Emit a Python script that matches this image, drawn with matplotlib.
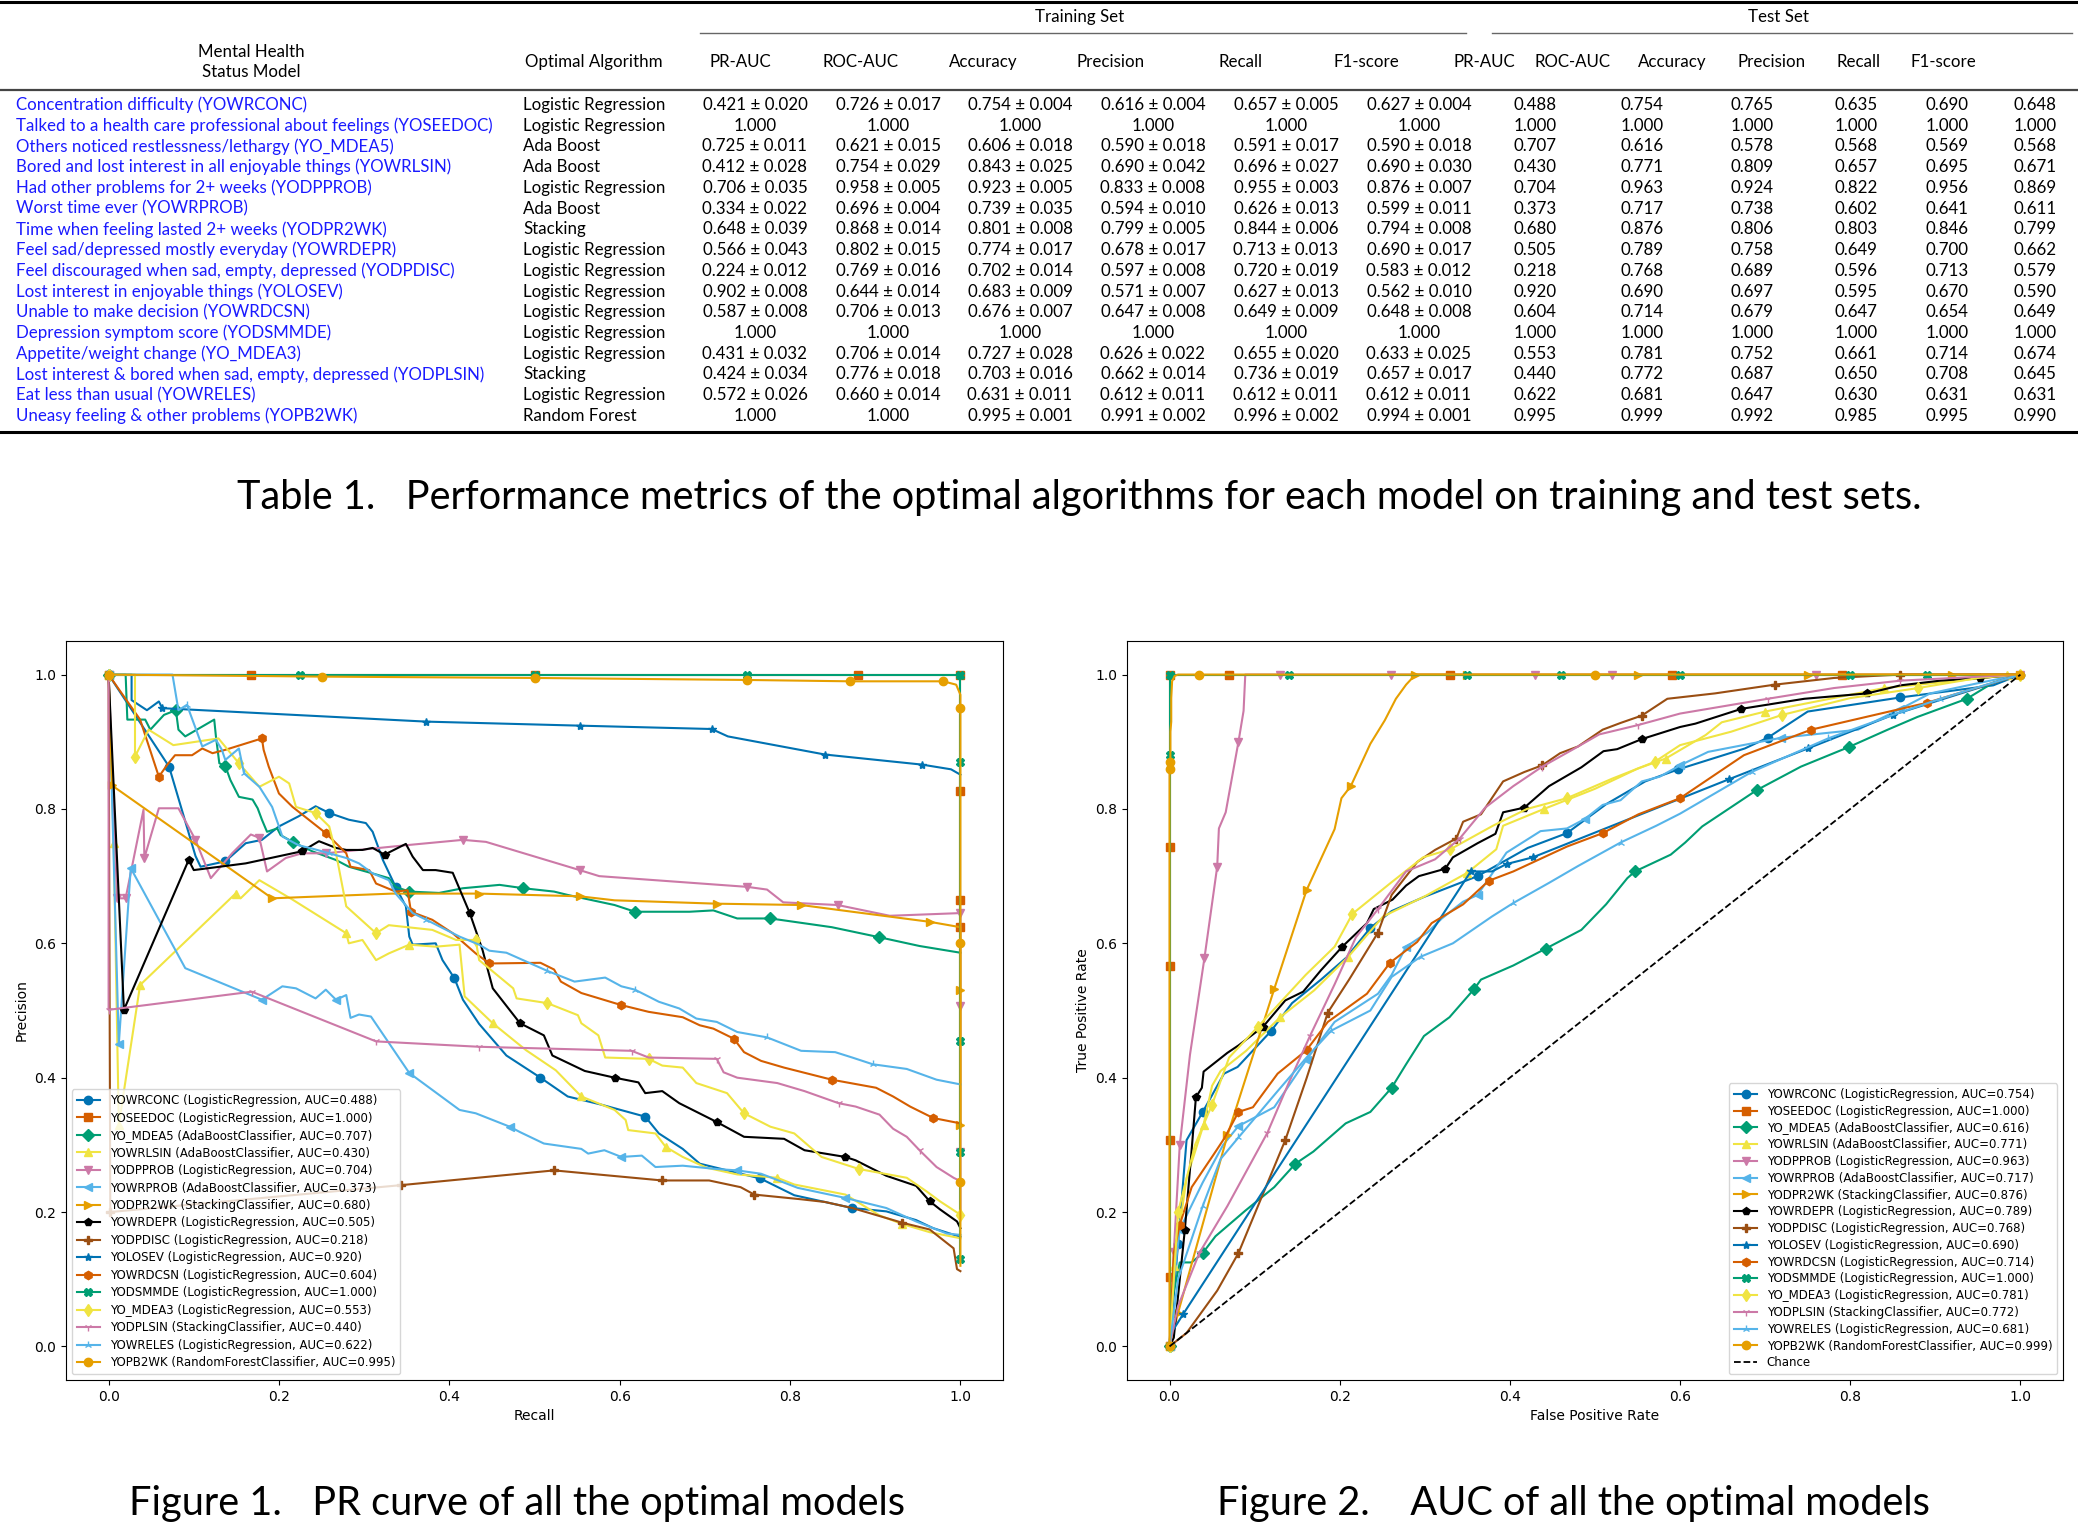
import matplotlib
matplotlib.use('Agg')
import matplotlib.pyplot as plt

# ---------------- table data ----------------
codes = ['YOWRCONC', 'YOSEEDOC', 'YO_MDEA5', 'YOWRLSIN', 'YODPPROB', 'YOWRPROB', 'YODPR2WK', 'YOWRDEPR',
         'YODPDISC', 'YOLOSEV', 'YOWRDCSN', 'YODSMMDE', 'YO_MDEA3', 'YODPLSIN', 'YOWRELES', 'YOPB2WK']
descriptions = ['Concentration difficulty',
                'Talked to a health care professional about feelings',
                'Others noticed restlessness/lethargy',
                'Bored and lost interest in all enjoyable things',
                'Had other problems for 2+ weeks',
                'Worst time ever',
                'Time when feeling lasted 2+ weeks',
                'Feel sad/depressed mostly everyday',
                'Feel discouraged when sad, empty, depressed',
                'Lost interest in enjoyable things',
                'Unable to make decision',
                'Depression symptom score',
                'Appetite/weight change',
                'Lost interest & bored when sad, empty, depressed',
                'Eat less than usual',
                'Uneasy feeling & other problems']
algorithms = ['Logistic Regression', 'Logistic Regression', 'Ada Boost', 'Ada Boost', 'Logistic Regression',
              'Ada Boost', 'Stacking', 'Logistic Regression', 'Logistic Regression', 'Logistic Regression',
              'Logistic Regression', 'Logistic Regression', 'Logistic Regression', 'Stacking',
              'Logistic Regression', 'Random Forest']

train_pr_auc = [0.421, 1.000, 0.725, 0.412, 0.706, 0.334, 0.648, 0.566, 0.224, 0.902, 0.587, 1.000, 0.431, 0.424, 0.572, 1.000]
train_pr_auc_sd = [0.020, None, 0.011, 0.028, 0.035, 0.022, 0.039, 0.043, 0.012, 0.008, 0.008, None, 0.032, 0.034, 0.026, None]
train_roc_auc = [0.726, 1.000, 0.621, 0.754, 0.958, 0.696, 0.868, 0.802, 0.769, 0.644, 0.706, 1.000, 0.706, 0.776, 0.660, 1.000]
train_roc_auc_sd = [0.017, None, 0.015, 0.029, 0.005, 0.004, 0.014, 0.015, 0.016, 0.014, 0.013, None, 0.014, 0.018, 0.014, None]
train_accuracy = [0.754, 1.000, 0.606, 0.843, 0.923, 0.739, 0.801, 0.774, 0.702, 0.683, 0.676, 1.000, 0.727, 0.703, 0.631, 0.995]
train_accuracy_sd = [0.004, None, 0.018, 0.025, 0.005, 0.035, 0.008, 0.017, 0.014, 0.009, 0.007, None, 0.028, 0.016, 0.011, 0.001]
train_precision = [0.616, 1.000, 0.590, 0.690, 0.833, 0.594, 0.799, 0.678, 0.597, 0.571, 0.647, 1.000, 0.626, 0.662, 0.612, 0.991]
train_precision_sd = [0.004, None, 0.018, 0.042, 0.008, 0.010, 0.005, 0.017, 0.008, 0.007, 0.008, None, 0.022, 0.014, 0.011, 0.002]
train_recall = [0.657, 1.000, 0.591, 0.696, 0.955, 0.626, 0.844, 0.713, 0.720, 0.627, 0.649, 1.000, 0.655, 0.736, 0.612, 0.996]
train_recall_sd = [0.005, None, 0.017, 0.027, 0.003, 0.013, 0.006, 0.013, 0.019, 0.013, 0.009, None, 0.020, 0.019, 0.011, 0.002]
train_f1 = [0.627, 1.000, 0.590, 0.690, 0.876, 0.599, 0.794, 0.690, 0.583, 0.562, 0.648, 1.000, 0.633, 0.657, 0.612, 0.994]
train_f1_sd = [0.004, None, 0.018, 0.030, 0.007, 0.011, 0.008, 0.017, 0.012, 0.010, 0.008, None, 0.025, 0.017, 0.011, 0.001]

test_pr_auc = [0.488, 1.000, 0.707, 0.430, 0.704, 0.373, 0.680, 0.505, 0.218, 0.920, 0.604, 1.000, 0.553, 0.440, 0.622, 0.995]
test_roc_auc = [0.754, 1.000, 0.616, 0.771, 0.963, 0.717, 0.876, 0.789, 0.768, 0.690, 0.714, 1.000, 0.781, 0.772, 0.681, 0.999]
test_accuracy = [0.765, 1.000, 0.578, 0.809, 0.924, 0.738, 0.806, 0.758, 0.689, 0.697, 0.679, 1.000, 0.752, 0.687, 0.647, 0.992]
test_precision = [0.635, 1.000, 0.568, 0.657, 0.822, 0.602, 0.803, 0.649, 0.596, 0.595, 0.647, 1.000, 0.661, 0.650, 0.630, 0.985]
test_recall = [0.690, 1.000, 0.569, 0.695, 0.956, 0.641, 0.846, 0.700, 0.713, 0.670, 0.654, 1.000, 0.714, 0.708, 0.631, 0.995]
test_f1 = [0.648, 1.000, 0.568, 0.671, 0.869, 0.611, 0.799, 0.662, 0.579, 0.590, 0.649, 1.000, 0.674, 0.645, 0.631, 0.990]

metric_headers = ['PR-AUC', 'ROC-AUC', 'Accuracy', 'Precision', 'Recall', 'F1-score']

# ---------------- PR curves (recall, precision) ----------------
pr_yowrconc = [(0.0, 1.0), (0.071, 0.863), (0.102, 0.730), (0.108, 0.714), (0.137, 0.722), (0.161, 0.749), (0.180, 0.754),
               (0.200, 0.774), (0.223, 0.789), (0.243, 0.804), (0.259, 0.794), (0.282, 0.784), (0.302, 0.779), (0.310, 0.766),
               (0.322, 0.724), (0.337, 0.684), (0.349, 0.655), (0.353, 0.610), (0.357, 0.598), (0.384, 0.600), (0.392, 0.575),
               (0.406, 0.548), (0.416, 0.516), (0.435, 0.480), (0.467, 0.433), (0.507, 0.400), (0.539, 0.372), (0.578, 0.360),
               (0.630, 0.342), (0.646, 0.317), (0.674, 0.294), (0.694, 0.272), (0.765, 0.250), (0.805, 0.225), (0.873, 0.206),
               (0.913, 0.201), (0.948, 0.188), (0.968, 0.176), (1.0, 0.163)]
pr_yoseedoc = [(0.0, 1.0), (0.167, 1.0), (0.5, 1.0), (0.88, 1.0), (1.0, 1.0), (1.0, 0.897), (1.0, 0.827), (1.0, 0.775),
               (1.0, 0.718), (1.0, 0.664), (1.0, 0.624), (1.0, 0.33)]
pr_yo_mdea5 = [(0.0, 1.0), (0.02, 1.0), (0.022, 0.933), (0.043, 0.933), (0.049, 0.918), (0.065, 0.94), (0.079, 0.947),
               (0.082, 0.918), (0.090, 0.908), (0.124, 0.933), (0.126, 0.908), (0.130, 0.868), (0.137, 0.864), (0.143, 0.843),
               (0.153, 0.818), (0.169, 0.814), (0.175, 0.801), (0.180, 0.784), (0.186, 0.766), (0.198, 0.771), (0.202, 0.761),
               (0.216, 0.751), (0.239, 0.737), (0.267, 0.724), (0.282, 0.714), (0.310, 0.704), (0.329, 0.697), (0.337, 0.684),
               (0.353, 0.677), (0.388, 0.675), (0.416, 0.682), (0.459, 0.687), (0.487, 0.682), (0.523, 0.677), (0.539, 0.672),
               (0.594, 0.657), (0.618, 0.647), (0.682, 0.647), (0.710, 0.649), (0.738, 0.637), (0.777, 0.637), (0.849, 0.624),
               (0.905, 0.609), (0.952, 0.596), (1.0, 0.586)]
pr_yowrlsin = [(0.0, 1.0), (0.006, 0.75), (0.012, 0.33), (0.037, 0.538), (0.149, 0.674), (0.155, 0.667), (0.177, 0.694),
               (0.216, 0.665), (0.279, 0.615), (0.282, 0.600), (0.298, 0.605), (0.314, 0.575), (0.329, 0.585), (0.353, 0.598),
               (0.384, 0.595), (0.412, 0.598), (0.418, 0.521), (0.451, 0.481), (0.490, 0.441), (0.525, 0.411), (0.555, 0.372),
               (0.594, 0.352), (0.607, 0.337), (0.610, 0.322), (0.642, 0.317), (0.654, 0.297), (0.674, 0.282), (0.702, 0.266),
               (0.738, 0.256), (0.785, 0.251), (0.805, 0.241), (0.865, 0.226), (0.905, 0.195), (0.932, 0.182), (0.964, 0.170),
               (1.0, 0.161)]
pr_yodpprob = [(0.0, 1.0), (0.010, 0.667), (0.020, 0.667), (0.041, 0.799), (0.042, 0.727), (0.059, 0.801), (0.082, 0.801),
               (0.102, 0.754), (0.120, 0.697), (0.145, 0.734), (0.167, 0.762), (0.177, 0.757), (0.186, 0.707), (0.208, 0.727),
               (0.227, 0.734), (0.255, 0.734), (0.349, 0.746), (0.416, 0.754), (0.443, 0.751), (0.553, 0.709), (0.576, 0.700),
               (0.750, 0.684), (0.773, 0.680), (0.792, 0.661), (0.856, 0.657), (0.917, 0.641), (1.0, 0.645), (1.0, 0.506),
               (1.0, 0.289), (1.0, 0.256), (1.0, 0.219), (1.0, 0.20)]
pr_yowrprob = [(0.0, 1.0), (0.012, 0.45), (0.026, 0.712), (0.090, 0.563), (0.180, 0.516), (0.204, 0.536), (0.220, 0.533),
               (0.243, 0.518), (0.255, 0.531), (0.267, 0.516), (0.279, 0.523), (0.284, 0.489), (0.294, 0.494), (0.308, 0.491),
               (0.353, 0.407), (0.412, 0.352), (0.431, 0.347), (0.471, 0.327), (0.483, 0.319), (0.511, 0.302), (0.555, 0.294),
               (0.563, 0.287), (0.582, 0.292), (0.602, 0.282), (0.626, 0.284), (0.642, 0.267), (0.674, 0.269), (0.714, 0.264),
               (0.738, 0.262), (0.766, 0.257), (0.809, 0.236), (0.865, 0.221), (0.913, 0.206), (0.948, 0.186), (0.984, 0.168),
               (1.0, 0.166)]
pr_yodpr2wk = [(0.0, 1.0), (0.004, 0.835), (0.192, 0.667), (0.333, 0.674), (0.435, 0.674), (0.553, 0.670), (0.594, 0.664),
               (0.714, 0.659), (0.813, 0.657), (0.873, 0.647), (0.964, 0.632), (1.0, 0.624), (1.0, 0.605), (1.0, 0.53),
               (1.0, 0.42), (1.0, 0.36), (1.0, 0.33)]
pr_yowrdepr = [(0.0, 1.0), (0.018, 0.501), (0.094, 0.724), (0.100, 0.709), (0.161, 0.719), (0.227, 0.737), (0.247, 0.752),
               (0.267, 0.742), (0.279, 0.739), (0.298, 0.739), (0.310, 0.742), (0.324, 0.732), (0.349, 0.748), (0.357, 0.729),
               (0.369, 0.709), (0.384, 0.709), (0.404, 0.705), (0.424, 0.645), (0.439, 0.590), (0.451, 0.533), (0.483, 0.481),
               (0.511, 0.463), (0.521, 0.433), (0.559, 0.410), (0.594, 0.400), (0.622, 0.393), (0.630, 0.377), (0.650, 0.380),
               (0.670, 0.362), (0.714, 0.334), (0.746, 0.312), (0.793, 0.309), (0.817, 0.292), (0.865, 0.282), (0.877, 0.277),
               (0.913, 0.254), (0.948, 0.239), (0.964, 0.216), (0.976, 0.204), (0.996, 0.186), (1.0, 0.176)]
pr_yodpdisc = [(0.0, 1.0), (0.002, 0.20), (0.343, 0.240), (0.523, 0.262), (0.650, 0.247), (0.705, 0.247), (0.742, 0.237),
               (0.758, 0.226), (0.813, 0.219), (0.841, 0.215), (0.873, 0.206), (0.932, 0.184), (0.964, 0.174), (0.980, 0.158),
               (0.992, 0.146), (0.996, 0.115), (1.0, 0.112)]
pr_yolosev = [(0.0, 1.0), (0.027, 1.0), (0.027, 0.962), (0.045, 0.947), (0.059, 0.960), (0.063, 0.950), (0.373, 0.930),
              (0.553, 0.924), (0.708, 0.919), (0.727, 0.908), (0.841, 0.881), (0.955, 0.866), (0.989, 0.859), (1.0, 0.851)]
pr_yowrdcsn = [(0.0, 1.0), (0.037, 0.933), (0.059, 0.848), (0.069, 0.866), (0.078, 0.880), (0.098, 0.880), (0.110, 0.890),
               (0.122, 0.883), (0.137, 0.888), (0.180, 0.905), (0.182, 0.888), (0.188, 0.863), (0.200, 0.823), (0.216, 0.803),
               (0.255, 0.764), (0.271, 0.744), (0.279, 0.734), (0.284, 0.714), (0.306, 0.709), (0.314, 0.689), (0.337, 0.677),
               (0.351, 0.679), (0.355, 0.647), (0.380, 0.635), (0.404, 0.615), (0.431, 0.585), (0.447, 0.570), (0.507, 0.571),
               (0.523, 0.561), (0.531, 0.543), (0.555, 0.526), (0.602, 0.508), (0.634, 0.498), (0.674, 0.490), (0.694, 0.478),
               (0.710, 0.473), (0.734, 0.458), (0.746, 0.438), (0.766, 0.425), (0.793, 0.415), (0.849, 0.397), (0.901, 0.385),
               (0.921, 0.372), (0.941, 0.357), (0.968, 0.340), (1.0, 0.332)]
pr_yodsmmde = [(0.0, 1.0), (0.225, 1.0), (0.5, 1.0), (0.75, 1.0), (1.0, 1.0), (1.0, 0.87), (1.0, 0.455), (1.0, 0.38),
               (1.0, 0.29), (1.0, 0.20), (1.0, 0.16), (1.0, 0.13)]
pr_yo_mdea3 = [(0.0, 1.0), (0.031, 1.0), (0.031, 0.878), (0.047, 0.918), (0.076, 0.895), (0.129, 0.905), (0.153, 0.868),
               (0.177, 0.833), (0.200, 0.848), (0.212, 0.838), (0.220, 0.803), (0.243, 0.794), (0.259, 0.774), (0.267, 0.734),
               (0.279, 0.655), (0.314, 0.615), (0.329, 0.627), (0.380, 0.620), (0.408, 0.605), (0.431, 0.605), (0.435, 0.575),
               (0.475, 0.533), (0.479, 0.518), (0.515, 0.511), (0.551, 0.493), (0.555, 0.481), (0.575, 0.463), (0.583, 0.430),
               (0.634, 0.428), (0.650, 0.418), (0.674, 0.415), (0.690, 0.392), (0.726, 0.377), (0.746, 0.347), (0.777, 0.327),
               (0.805, 0.317), (0.837, 0.282), (0.881, 0.264), (0.937, 0.251), (0.960, 0.231), (0.976, 0.216), (1.0, 0.196)]
pr_yodplsin = [(0.0, 1.0), (0.0, 0.501), (0.168, 0.528), (0.314, 0.454), (0.435, 0.446), (0.614, 0.440), (0.634, 0.430),
               (0.714, 0.428), (0.722, 0.408), (0.738, 0.400), (0.785, 0.392), (0.817, 0.380), (0.857, 0.362), (0.877, 0.357),
               (0.905, 0.345), (0.921, 0.324), (0.937, 0.312), (0.952, 0.292), (0.972, 0.267), (0.992, 0.251), (1.0, 0.246)]
pr_yowreles = [(0.0, 1.0), (0.075, 1.0), (0.082, 0.947), (0.092, 0.955), (0.110, 0.893), (0.126, 0.903), (0.133, 0.888),
               (0.137, 0.873), (0.153, 0.890), (0.159, 0.853), (0.177, 0.833), (0.192, 0.803), (0.200, 0.774), (0.204, 0.759),
               (0.223, 0.746), (0.239, 0.741), (0.259, 0.734), (0.279, 0.727), (0.294, 0.719), (0.310, 0.704), (0.329, 0.694),
               (0.337, 0.674), (0.357, 0.645), (0.373, 0.635), (0.412, 0.610), (0.435, 0.598), (0.447, 0.589), (0.467, 0.586),
               (0.515, 0.559), (0.547, 0.543), (0.583, 0.549), (0.602, 0.536), (0.618, 0.531), (0.646, 0.513), (0.670, 0.503),
               (0.690, 0.488), (0.714, 0.483), (0.738, 0.468), (0.773, 0.460), (0.813, 0.440), (0.853, 0.438), (0.873, 0.430),
               (0.897, 0.420), (0.937, 0.413), (0.972, 0.397), (1.0, 0.390)]
pr_yopb2wk = [(0.0, 1.0), (0.25, 0.997), (0.5, 0.995), (0.75, 0.992), (0.87, 0.99), (0.93, 0.99), (0.96, 0.99), (0.98, 0.99),
              (0.995, 0.985), (1.0, 0.97), (1.0, 0.95), (1.0, 0.60), (1.0, 0.245), (1.0, 0.12)]

# ---------------- ROC curves (fpr, tpr) ----------------
roc_yowrconc = [(0.0, 0.0), (0.010, 0.153), (0.020, 0.307), (0.039, 0.349), (0.050, 0.374), (0.064, 0.406), (0.080, 0.416),
                (0.119, 0.469), (0.144, 0.511), (0.178, 0.546), (0.208, 0.579), (0.236, 0.623), (0.261, 0.648), (0.299, 0.669),
                (0.362, 0.700), (0.421, 0.742), (0.467, 0.764), (0.513, 0.807), (0.559, 0.841), (0.598, 0.859), (0.676, 0.890),
                (0.703, 0.906), (0.750, 0.945), (0.859, 0.966), (0.968, 0.984), (1.0, 1.0)]
roc_yoseedoc = [(0.0, 0.0), (0.0, 0.103), (0.0, 0.307), (0.0, 0.406), (0.0, 0.566), (0.0, 0.743), (0.0, 1.0), (0.07, 1.0),
                (0.33, 1.0), (0.59, 1.0), (0.79, 1.0), (1.0, 1.0)]
roc_yo_mdea5 = [(0.0, 0.0), (0.003, 0.069), (0.012, 0.125), (0.026, 0.125), (0.039, 0.139), (0.054, 0.164), (0.089, 0.202),
                (0.123, 0.237), (0.148, 0.272), (0.169, 0.290), (0.207, 0.332), (0.236, 0.349), (0.261, 0.385), (0.278, 0.420),
                (0.299, 0.462), (0.329, 0.490), (0.358, 0.532), (0.366, 0.546), (0.404, 0.567), (0.442, 0.592), (0.484, 0.620),
                (0.513, 0.658), (0.538, 0.697), (0.547, 0.707), (0.589, 0.732), (0.606, 0.750), (0.626, 0.774), (0.690, 0.828),
                (0.742, 0.863), (0.798, 0.892), (0.844, 0.918), (0.879, 0.937), (0.937, 0.964), (0.968, 0.988), (1.0, 1.0)]
roc_yowrlsin = [(0.0, 0.0), (0.005, 0.12), (0.02, 0.25), (0.04, 0.33), (0.05, 0.388), (0.06, 0.41), (0.09, 0.44),
                (0.13, 0.49), (0.17, 0.53), (0.21, 0.58), (0.251, 0.64), (0.3, 0.67), (0.35, 0.705), (0.384, 0.74),
                (0.392, 0.775), (0.44, 0.80), (0.5, 0.83), (0.55, 0.86), (0.583, 0.875), (0.63, 0.91), (0.649, 0.929),
                (0.7, 0.945), (0.76, 0.96), (0.84, 0.98), (0.92, 0.99), (0.984, 0.999), (1.0, 1.0)]
roc_yodpprob = [(0.0, 0.0), (0.005, 0.14), (0.012, 0.30), (0.024, 0.434), (0.041, 0.578), (0.056, 0.714), (0.058, 0.771),
                (0.066, 0.795), (0.081, 0.900), (0.087, 0.946), (0.089, 1.0), (0.13, 1.0), (0.26, 1.0), (0.43, 1.0),
                (0.52, 1.0), (0.76, 1.0), (0.93, 1.0), (1.0, 1.0)]
roc_yowrprob = [(0.0, 0.0), (0.005, 0.10), (0.012, 0.174), (0.039, 0.244), (0.063, 0.300), (0.081, 0.328), (0.123, 0.356),
                (0.161, 0.427), (0.194, 0.483), (0.245, 0.525), (0.261, 0.553), (0.278, 0.595), (0.303, 0.616), (0.320, 0.637),
                (0.345, 0.662), (0.362, 0.672), (0.396, 0.735), (0.436, 0.767), (0.467, 0.771), (0.488, 0.785), (0.509, 0.806),
                (0.530, 0.813), (0.555, 0.841), (0.576, 0.848), (0.600, 0.865), (0.633, 0.885), (0.719, 0.906), (0.809, 0.918),
                (0.859, 0.949), (0.894, 0.972), (0.953, 0.988), (1.0, 1.0)]
roc_yodpr2wk = [(0.0, 0.0), (0.01, 0.05), (0.068, 0.314), (0.123, 0.532), (0.161, 0.679), (0.194, 0.770), (0.202, 0.816),
                (0.213, 0.834), (0.236, 0.897), (0.253, 0.932), (0.266, 0.964), (0.278, 0.985), (0.289, 1.0), (0.35, 1.0),
                (0.55, 1.0), (0.75, 1.0), (0.92, 1.0), (1.0, 1.0)]
roc_yowrdepr = [(0.0, 0.0), (0.005, 0.013), (0.018, 0.174), (0.026, 0.293), (0.031, 0.371), (0.038, 0.385), (0.040, 0.409),
                (0.068, 0.437), (0.081, 0.448), (0.110, 0.476), (0.136, 0.515), (0.157, 0.528), (0.178, 0.560), (0.203, 0.595),
                (0.232, 0.630), (0.240, 0.651), (0.262, 0.665), (0.278, 0.686), (0.293, 0.700), (0.324, 0.711), (0.333, 0.728),
                (0.362, 0.749), (0.383, 0.763), (0.392, 0.795), (0.417, 0.802), (0.446, 0.834), (0.484, 0.862), (0.510, 0.886),
                (0.526, 0.889), (0.555, 0.904), (0.600, 0.922), (0.618, 0.927), (0.672, 0.949), (0.746, 0.964), (0.820, 0.972),
                (0.859, 0.984), (0.906, 0.991), (0.953, 0.995), (1.0, 1.0)]
roc_yodpdisc = [(0.0, 0.0), (0.02, 0.02), (0.056, 0.083), (0.081, 0.139), (0.136, 0.307), (0.161, 0.399), (0.186, 0.497),
                (0.211, 0.546), (0.245, 0.616), (0.261, 0.672), (0.291, 0.721), (0.312, 0.739), (0.337, 0.756), (0.345, 0.781),
                (0.366, 0.792), (0.392, 0.841), (0.417, 0.855), (0.438, 0.865), (0.459, 0.883), (0.480, 0.893), (0.509, 0.918),
                (0.530, 0.928), (0.555, 0.939), (0.585, 0.964), (0.641, 0.972), (0.711, 0.985), (0.781, 0.995), (0.859, 1.0),
                (1.0, 1.0)]
roc_yolosev = [(0.0, 0.0), (0.002, 0.02), (0.016, 0.048), (0.354, 0.707), (0.379, 0.707), (0.396, 0.718), (0.427, 0.728),
               (0.657, 0.844), (0.75, 0.89), (0.85, 0.94), (1.0, 1.0)]
roc_yowrdcsn = [(0.0, 0.0), (0.005, 0.139), (0.012, 0.181), (0.026, 0.237), (0.052, 0.286), (0.064, 0.309), (0.081, 0.349),
                (0.098, 0.356), (0.127, 0.406), (0.161, 0.441), (0.186, 0.483), (0.232, 0.525), (0.259, 0.571), (0.291, 0.602),
                (0.308, 0.630), (0.345, 0.658), (0.375, 0.693), (0.404, 0.707), (0.467, 0.744), (0.509, 0.764), (0.551, 0.792),
                (0.600, 0.816), (0.675, 0.880), (0.754, 0.918), (0.890, 0.958), (1.0, 1.0)]
roc_yodsmmde = [(0.0, 0.0), (0.0, 0.88), (0.0, 1.0), (0.14, 1.0), (0.245, 1.0), (0.35, 1.0), (0.46, 1.0), (0.6, 1.0),
                (0.7, 1.0), (0.8, 1.0), (0.89, 1.0), (1.0, 1.0)]
roc_yo_mdea3 = [(0.0, 0.0), (0.01, 0.2), (0.03, 0.3), (0.05, 0.36), (0.07, 0.43), (0.104, 0.476), (0.16, 0.553),
                (0.194, 0.595), (0.215, 0.644), (0.26, 0.69), (0.298, 0.728), (0.33, 0.74), (0.38, 0.775), (0.42, 0.80),
                (0.467, 0.816), (0.52, 0.845), (0.57, 0.87), (0.6, 0.895), (0.66, 0.915), (0.72, 0.94), (0.8, 0.965),
                (0.88, 0.98), (0.95, 0.995), (1.0, 1.0)]
roc_yodplsin = [(0.0, 0.0), (0.01, 0.06), (0.035, 0.139), (0.068, 0.209), (0.115, 0.318), (0.140, 0.392), (0.165, 0.462),
                (0.194, 0.539), (0.219, 0.609), (0.245, 0.651), (0.278, 0.707), (0.312, 0.725), (0.341, 0.756), (0.371, 0.802),
                (0.404, 0.834), (0.438, 0.863), (0.476, 0.890), (0.505, 0.911), (0.551, 0.925), (0.600, 0.942), (0.703, 0.964),
                (0.781, 0.980), (0.859, 0.991), (1.0, 1.0)]
roc_yowreles = [(0.0, 0.0), (0.01, 0.1), (0.039, 0.209), (0.06, 0.279), (0.081, 0.311), (0.127, 0.38), (0.161, 0.43),
                (0.19, 0.47), (0.236, 0.50), (0.261, 0.55), (0.295, 0.58), (0.333, 0.60), (0.379, 0.64), (0.404, 0.66),
                (0.446, 0.690), (0.48, 0.715), (0.53, 0.75), (0.572, 0.775), (0.6, 0.793), (0.684, 0.855), (0.774, 0.905),
                (0.85, 0.94), (0.906, 0.964), (0.96, 0.985), (1.0, 1.0)]
roc_yopb2wk = [(0.0, 0.0), (0.0, 0.86), (0.001, 0.87), (0.001, 0.915), (0.002, 0.93), (0.002, 0.945), (0.002, 0.965),
               (0.003, 0.99), (0.006, 0.998), (0.01, 1.0), (0.015, 1.0), (0.035, 1.0), (0.5, 1.0), (1.0, 1.0)]

pr_curves = [pr_yowrconc, pr_yoseedoc, pr_yo_mdea5, pr_yowrlsin, pr_yodpprob, pr_yowrprob, pr_yodpr2wk, pr_yowrdepr,
             pr_yodpdisc, pr_yolosev, pr_yowrdcsn, pr_yodsmmde, pr_yo_mdea3, pr_yodplsin, pr_yowreles, pr_yopb2wk]
roc_curves = [roc_yowrconc, roc_yoseedoc, roc_yo_mdea5, roc_yowrlsin, roc_yodpprob, roc_yowrprob, roc_yodpr2wk,
              roc_yowrdepr, roc_yodpdisc, roc_yolosev, roc_yowrdcsn, roc_yodsmmde, roc_yo_mdea3, roc_yodplsin,
              roc_yowreles, roc_yopb2wk]

clf_class = {'Logistic Regression': 'LogisticRegression', 'Ada Boost': 'AdaBoostClassifier',
             'Stacking': 'StackingClassifier', 'Random Forest': 'RandomForestClassifier'}

# styles
colors = ['#0072B2', '#D55E00', '#009E73', '#F0E442', '#CC79A7', '#56B4E9', '#E69F00', '#000000', '#9A4E12']
markers = ['o', 's', 'D', '^', 'v', '<', '>', 'p', 'P', '*', 'h', 'X', 'd', '1', '2']


def fmt(mean, sd=None):
    if sd is None:
        return f"{mean:.3f}"
    return f"{mean:.3f} \u00b1 {sd:.3f}"


W, H = 2078, 1527
fig = plt.figure(figsize=(W / 100, H / 100), dpi=100)

# ---------------- table, drawn in pixel coordinates ----------------
tab = fig.add_axes([0, 0, 1, 1])
tab.set_xlim(0, W)
tab.set_ylim(H, 0)
tab.axis('off')
tfont = dict(family='Lato', fontsize=12.2)

tab.plot([0, W], [1.5, 1.5], color='black', lw=2.2)
tab.plot([700, 1466], [33, 33], color='#666666', lw=1.0)
tab.plot([1492, 2072], [33, 33], color='#666666', lw=1.0)
tab.plot([0, W], [89.5, 89.5], color='#444444', lw=1.6)
tab.plot([0, W], [432, 432], color='black', lw=2.2)

tab.text(1080, 17, 'Training Set', ha='center', va='center', **tfont)
tab.text(1778, 17, 'Test Set', ha='center', va='center', **tfont)
tab.text(251, 62, 'Mental Health\nStatus Model', ha='center', va='center', linespacing=1.25, **tfont)
tab.text(594, 62, 'Optimal Algorithm', ha='center', va='center', **tfont)
header_x = [740, 860, 983, 1111, 1240, 1366, 1484, 1572, 1672, 1772, 1858, 1943]
for k, hx in enumerate(header_x):
    tab.text(hx, 62, metric_headers[k % 6], ha='center', va='center', **tfont)

train_cols = [(train_pr_auc, train_pr_auc_sd), (train_roc_auc, train_roc_auc_sd), (train_accuracy, train_accuracy_sd),
              (train_precision, train_precision_sd), (train_recall, train_recall_sd), (train_f1, train_f1_sd)]
test_cols = [test_pr_auc, test_roc_auc, test_accuracy, test_precision, test_recall, test_f1]
train_x = [755, 888, 1020, 1153, 1286, 1419]
test_x = [1535, 1642, 1752, 1856, 1947, 2035]

for i in range(len(codes)):
    y = 105 + i * 20.73
    tab.text(16, y, f"{descriptions[i]} ({codes[i]})", color='#1a1aff', ha='left', va='center', **tfont)
    tab.text(523, y, algorithms[i], ha='left', va='center', **tfont)
    for j, (m, s) in enumerate(train_cols):
        tab.text(train_x[j], y, fmt(m[i], s[i]), ha='center', va='center', **tfont)
    for j, m in enumerate(test_cols):
        tab.text(test_x[j], y, fmt(m[i]), ha='center', va='center', **tfont)

cap = dict(family='Lato', fontsize=28.6, ha='center', va='center')
tab.text(1079, 497, 'Table 1.   Performance metrics of the optimal algorithms for each model on training and test sets.', **cap)
tab.text(517, 1503, 'Figure 1.   PR curve of all the optimal models', **cap)
tab.text(1573, 1503, 'Figure 2.    AUC of all the optimal models', **cap)

# ---------------- PR curves ----------------
ax1 = fig.add_axes([66 / W, 1 - 1380 / H, (1003 - 66) / W, (1380 - 641) / H])
for i, pts in enumerate(pr_curves):
    rec, prec = zip(*pts)
    ax1.plot(rec, prec, color=colors[i % 9], marker=markers[i % 15], markevery=0.1, ms=6, lw=1.5,
             label=f"{codes[i]} ({clf_class[algorithms[i]]}, AUC={test_pr_auc[i]:.3f})")
ax1.set_xlim(-0.05, 1.05)
ax1.set_ylim(-0.05, 1.05)
ax1.set_xlabel('Recall')
ax1.set_ylabel('Precision')
ax1.legend(loc='lower left', fontsize=8.5, labelspacing=0.38)

# ---------------- ROC curves ----------------
ax2 = fig.add_axes([1127 / W, 1 - 1380 / H, (2063 - 1127) / W, (1380 - 641) / H])
for i, pts in enumerate(roc_curves):
    fpr, tpr = zip(*pts)
    ax2.plot(fpr, tpr, color=colors[i % 9], marker=markers[i % 15], markevery=0.1, ms=6, lw=1.5,
             label=f"{codes[i]} ({clf_class[algorithms[i]]}, AUC={test_roc_auc[i]:.3f})")
ax2.plot([0, 1], [0, 1], 'k--', lw=1.3, label='Chance')
ax2.set_xlim(-0.05, 1.05)
ax2.set_ylim(-0.05, 1.05)
ax2.set_xlabel('False Positive Rate')
ax2.set_ylabel('True Positive Rate')
ax2.legend(loc='lower right', fontsize=8.5, labelspacing=0.32)

fig.savefig('out.png', dpi=100)
